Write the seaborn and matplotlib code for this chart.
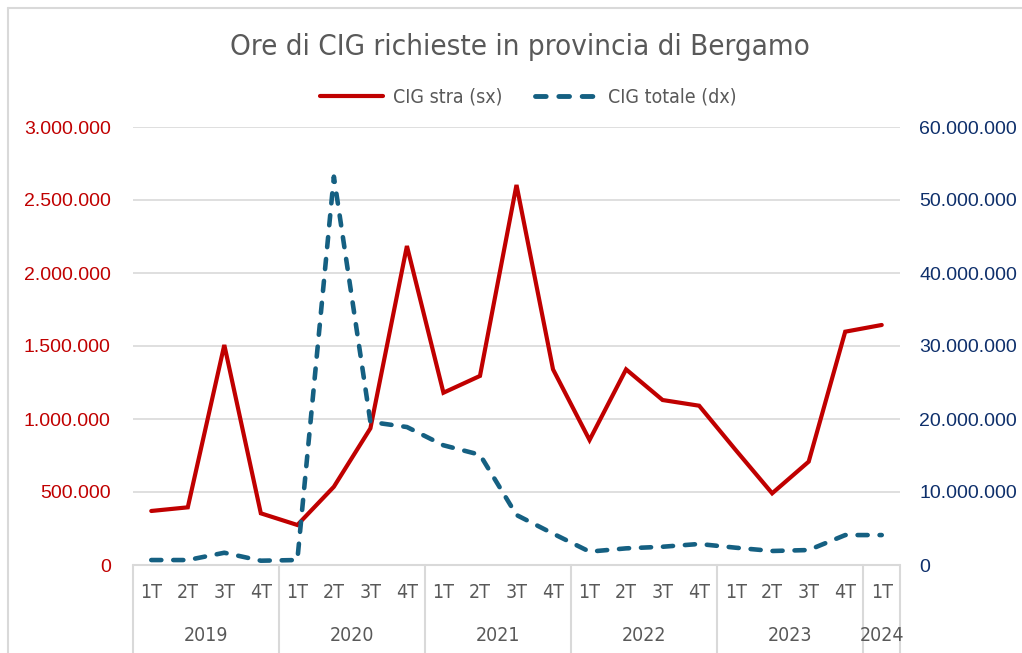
"""Ore di CIG richieste in provincia di Bergamo: CIG stra (sx) vs CIG totale (dx)."""

import matplotlib.pyplot as plt
import matplotlib.ticker as mticker
import matplotlib.transforms as mtransforms
from matplotlib.lines import Line2D
import pandas as pd
import seaborn as sns

# ── Data ─────────────────────────────────────────────────────────────────────
YEARS = ["2019", "2020", "2021", "2022", "2023", "2024"]
QUARTERS = ["1T", "2T", "3T", "4T"]
QUARTER_LABELS = [q for y in YEARS[:-1] for q in QUARTERS] + ["1T"]
YEAR_OF_POINT = [y for y in YEARS[:-1] for _ in QUARTERS] + ["2024"]

CIG_STRA = [370_000, 395_000, 1_507_000, 354_000, 274_000, 536_000, 936_000, 2_185_000,
            1_180_000, 1_295_000, 2_603_000, 1_340_000, 856_000, 1_340_000, 1_130_000,
            1_091_000, 788_000, 491_000, 708_000, 1_598_000, 1_644_000]
CIG_TOTALE = [680_000, 680_000, 1_680_000, 590_000, 680_000, 53_200_000, 19_600_000,
              18_900_000, 16_400_000, 15_100_000, 6_850_000, 4_300_000, 1_830_000,
              2_280_000, 2_500_000, 2_880_000, 2_370_000, 1_920_000, 2_050_000,
              4_100_000, 4_100_000]

RED = "#C00000"
BLUE = "#156082"
NAVY = "#0E2F6B"
GREY_TXT = "#595959"
GRID = "#D9D9D9"

df = pd.DataFrame({
    "pos": range(len(QUARTER_LABELS)),
    "quarter": QUARTER_LABELS,
    "year": YEAR_OF_POINT,
    "stra": CIG_STRA,
    "totale": CIG_TOTALE,
})

sns.set_theme(style="white")
plt.rcParams["font.family"] = ["Liberation Sans", "DejaVu Sans"]
NARROW = dict(family=["DejaVu Sans"], stretch="condensed")


def it_fmt(v, _pos=None):
    return f"{v:,.0f}".replace(",", ".")


fig = plt.figure(figsize=(10.22, 6.53), dpi=100)
ax = fig.add_axes([133 / 1022, 1 - 565 / 653, (900 - 133) / 1022, (565 - 127) / 653])
ax2 = ax.twinx()

sns.lineplot(data=df, x="pos", y="stra", ax=ax, color=RED, linewidth=3.0,
             solid_capstyle="round", solid_joinstyle="miter", zorder=3, legend=False)
sns.lineplot(data=df, x="pos", y="totale", ax=ax2, color=BLUE, linewidth=3.3,
             dashes=False, zorder=3, legend=False)
ax2.lines[0].set_dashes((2.2, 2.6))
ax2.lines[0].set_dash_capstyle("round")

n = len(df)
ax.set_xlim(-0.5, n - 0.5)
ax.set_ylim(0, 3_000_000)
ax2.set_ylim(0, 60_000_000)
ax.yaxis.set_major_locator(mticker.MultipleLocator(500_000))
ax2.yaxis.set_major_locator(mticker.MultipleLocator(10_000_000))
ax.yaxis.set_major_formatter(mticker.FuncFormatter(it_fmt))
ax2.yaxis.set_major_formatter(mticker.FuncFormatter(it_fmt))

ax.grid(axis="y", color=GRID, linewidth=1.2)
ax.set_axisbelow(True)
for a in (ax, ax2):
    for s in a.spines.values():
        s.set_visible(False)
    a.set_xlabel("")
    a.set_ylabel("")
ax.tick_params(axis="y", length=0, pad=16, labelsize=14, labelcolor=RED)
ax2.tick_params(axis="y", length=0, pad=14, labelsize=14, labelcolor=NAVY)
ax.set_xticks([])
ax2.set_xticks([])

# ── Category axis: quarters + years ─────────────────────────────────────────
trans = mtransforms.blended_transform_factory(ax.transData, ax.transAxes)
ax.plot([-0.5, n - 0.5], [0, 0], transform=trans, color=GRID, lw=1.5,
        clip_on=False, zorder=1)
for i, q in enumerate(df["quarter"]):
    ax.text(i, -0.062, q, transform=trans, ha="center", va="center",
            fontsize=14, color=GREY_TXT, **NARROW)
bounds = [-0.5]
for y in YEARS:
    idx = df.index[df["year"] == y]
    ax.text((idx.min() + idx.max()) / 2, -0.161, y, transform=trans, ha="center",
            va="center", fontsize=14, color=GREY_TXT, **NARROW)
    bounds.append(idx.max() + 0.5)
for b in bounds:
    ax.plot([b, b], [0, -0.2], transform=trans, color=GRID, lw=1.5,
            clip_on=False, zorder=1)

# ── Title + legend ───────────────────────────────────────────────────────────
fig.text(0.509, 1 - 47 / 653, "Ore di CIG richieste in provincia di Bergamo",
         ha="center", va="center", fontsize=21.2, color=GREY_TXT, **NARROW)
handles = [
    Line2D([], [], color=RED, lw=3.0, solid_capstyle="round"),
    Line2D([], [], color=BLUE, lw=3.5, dashes=(2.2, 2.6), dash_capstyle="round"),
]
fig.legend(handles, ["CIG stra (sx)", "CIG totale (dx)"], loc="center",
           bbox_to_anchor=(0.517, 1 - 97 / 653), ncol=2, frameon=False,
           prop={"family": ["DejaVu Sans"], "stretch": "condensed", "size": 14},
           labelcolor=GREY_TXT, handlelength=3.25, handletextpad=0.5,
           columnspacing=1.7)

# chart border (Excel-like)
fig.add_artist(Line2D([8 / 1022, 8 / 1022], [0, 1 - 8 / 653], color=GRID, lw=1.5))
fig.add_artist(Line2D([8 / 1022, 1], [1 - 8 / 653, 1 - 8 / 653], color=GRID, lw=1.5))

fig.savefig("out.png", dpi=100)
